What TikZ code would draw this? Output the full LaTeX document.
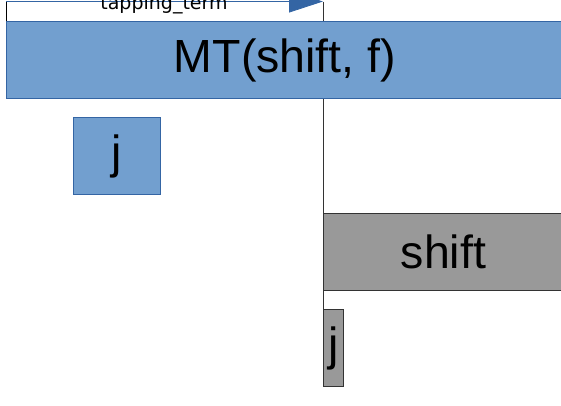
\documentclass[tikz,border=0pt]{standalone}
\usepackage{fontspec}
\setmainfont{Liberation Sans}
\newfontfamily\labelfont{DejaVu Sans}
\usepackage{xcolor}
\usetikzlibrary{arrows.meta}

\definecolor{boxblue}{HTML}{729FCF}
\definecolor{edgeblue}{HTML}{3465A4}
\definecolor{boxgray}{HTML}{999999}
\definecolor{edgegray}{HTML}{333333}

\tikzset{
	bluebox/.style={draw=edgeblue, fill=boxblue, line width=1pt, inner sep=0pt,
		anchor=north west, font=\fontsize{46.5}{52}\selectfont},
	graybox/.style={draw=edgegray, fill=boxgray, line width=1pt, inner sep=0pt,
		anchor=north west, font=\fontsize{46.5}{52}\selectfont}
}

\begin{document}
\begin{tikzpicture}[x=1pt,y=-1pt]
			%\draw[help lines] (0,0) grid (561,405);
			\useasboundingbox (0,0) rectangle (561,405);
			\clip (0,0) rectangle (561,405);

				% call frame
				\coordinate (start) at (6,1.5);
				\coordinate (tip) at (323,1.5);
				\coordinate (foot) at (323,309);
				
				\draw[edgegray, line width=1pt] (tip) -- (foot);

				\node[bluebox, minimum width=557pt, minimum height=77pt] (mt) at (6,21) {MT(shift, f)};
				\node[bluebox, minimum width=87pt, minimum height=77pt] (ja) at (73,117) {j};
				
				\node[graybox, minimum width=240pt, minimum height=77pt] (shift) at (323,213) {shift};
				\node[graybox, minimum width=20pt, minimum height=77pt] (jb) at (foot) {j};
				
				\draw[black, line width=1pt] (mt.north west) -- (start);
				\draw[edgeblue, line width=0.8pt, -{Triangle[length=34pt, width=22pt]}] (start) -- (tip);
				\node[font=\labelfont\fontsize{19}{22}\selectfont, anchor=base] (call) at (164,9) {tapping\_term};

			\end{tikzpicture}
\end{document}
